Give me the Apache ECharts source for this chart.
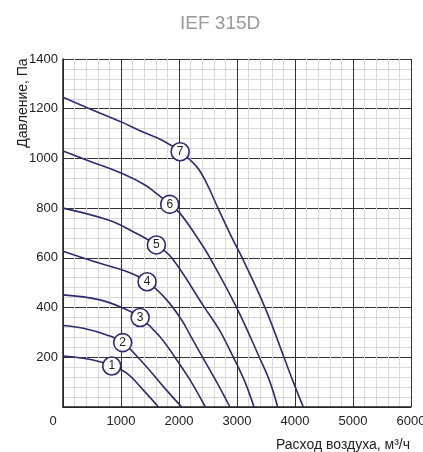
<!DOCTYPE html>
<html>
<head>
<meta charset="utf-8">
<script src="https://cdn.jsdelivr.net/npm/echarts@6/dist/echarts.min.js"></script>
<style>
html,body{margin:0;padding:0;background:#fff;}
#chart{width:423px;height:452px;}
</style>
</head>
<body>
<div id="chart"></div>
<script>
// axis ranges
var xMin = 0, xMax = 6000, xStep = 1000;
var yMin = 0, yMax = 1400, yStep = 200;

// curves: [airflow m3/h, pressure Pa]
var curve1 = [[0,205],[350,196],[638,182],[840,165],[1098,136],[1385,68],[1645,0]];
var curve2 = [[0,328],[350,317],[753,290],[1029,259],[1385,176],[1730,82],[2046,0]];
var curve3 = [[0,451],[638,431],[1040,397],[1330,360],[1672,283],[2000,176],[2190,109],[2455,0]];
var curve4 = [[0,627],[638,578],[1098,545],[1450,504],[1787,431],[2046,350],[2190,290],[2408,200],[2650,100],[2879,0]];
var curve5 = [[0,800],[781,752],[1212,705],[1610,652],[1874,600],[2440,400],[2695,310],[2937,200],[3138,100],[3293,0]];
var curve6 = [[0,1030],[436,991],[1012,940],[1414,893],[1643,853],[1840,815],[2017,779],[2305,685],[2534,600],[2994,400],[3385,200],[3569,100],[3701,0]];
var curve7 = [[0,1246],[436,1202],[1012,1146],[1357,1108],[1702,1074],[2020,1027],[2305,967],[2477,900],[2672,800],[2931,672],[3090,600],[3483,400],[3810,200],[3971,100],[4143,0]];

// numbered markers on the curves
var markNames = ['1','2','3','4','5','6','7'];
var markPos = [[840,165],[1029,259],[1330,360],[1450,504],[1610,652],[1840,815],[2020,1027]];

var curves = [curve1,curve2,curve3,curve4,curve5,curve6,curve7];
var navy = '#2c2c70';
var font = 'Liberation Sans, Arial, Helvetica, sans-serif';

var myChart = echarts.init(document.getElementById('chart'));

var series = [];
for (var i = 0; i < curves.length; i++) {
	series.push({
		name: 'curve' + (i + 1),
		type: 'line',
		data: curves[i],
		smooth: 0.4,
		showSymbol: false,
		lineStyle: {color: navy, width: 1.6},
		z: 3
	});
}
var markData = [];
for (var j = 0; j < markPos.length; j++) {
	markData.push({value: markPos[j], name: markNames[j]});
}
series.push({
	name: 'marks',
	type: 'scatter',
	data: markData,
	symbol: 'circle',
	symbolSize: 18,
	itemStyle: {color: '#fff', borderColor: navy, borderWidth: 1.6, opacity: 1},
	label: {
		show: true,
		position: 'inside',
		formatter: '{b}',
		color: '#222',
		fontSize: 12,
		fontFamily: font
	},
	z: 5
});

var option = {
	animation: false,
	backgroundColor: '#fff',
	title: {
		text: 'IEF 315D',
		left: 175,
		top: 9,
		textStyle: {color: '#999', fontSize: 19, fontWeight: 'normal', fontFamily: font}
	},
	grid: {left: 63, right: 12, top: 59, bottom: 45, containLabel: false, outerBoundsMode: 'none'},
	xAxis: {
		type: 'value',
		min: xMin, max: xMax, interval: xStep,
		name: 'Расход воздуха, м³/ч',
		nameLocation: 'middle',
		nameGap: 31,
		nameMoveOverlap: false,
		nameTextStyle: {color: '#222', fontSize: 14, fontFamily: font, padding: [0, 0, 0, 212]},
		axisLine: {show: true, lineStyle: {color: '#222', width: 1.5}},
		axisTick: {show: false},
		axisLabel: {
			color: '#222', fontSize: 13, fontFamily: font, margin: 8,
			formatter: function (v) { return v === 0 ? '{z|0}' : String(v); },
			rich: {z: {padding: [0, 20, 0, 0], fontSize: 13, color: '#222', fontFamily: font}}
		},
		splitLine: {show: true, lineStyle: {color: '#333', width: 1}},
		minorTick: {show: false, splitNumber: 5},
		minorSplitLine: {show: true, lineStyle: {color: '#d9d9d9', width: 1}}
	},
	yAxis: {
		type: 'value',
		min: yMin, max: yMax, interval: yStep,
		name: 'Давление, Па',
		nameLocation: 'middle',
		nameGap: 33,
		nameMoveOverlap: false,
		nameTextStyle: {color: '#222', fontSize: 14, fontFamily: font, padding: [0, 0, 0, 260]},
		axisLine: {show: true, lineStyle: {color: '#222', width: 1.5}},
		axisTick: {show: false},
		axisLabel: {
			color: '#222', fontSize: 13, fontFamily: font, margin: 5, showMinLabel: false,
			formatter: function (v) { return String(v); }
		},
		splitLine: {show: true, lineStyle: {color: '#333', width: 1}},
		minorTick: {show: false, splitNumber: 5},
		minorSplitLine: {show: true, lineStyle: {color: '#d9d9d9', width: 1}}
	},
	series: series
};
myChart.setOption(option);
</script>
</body>
</html>
